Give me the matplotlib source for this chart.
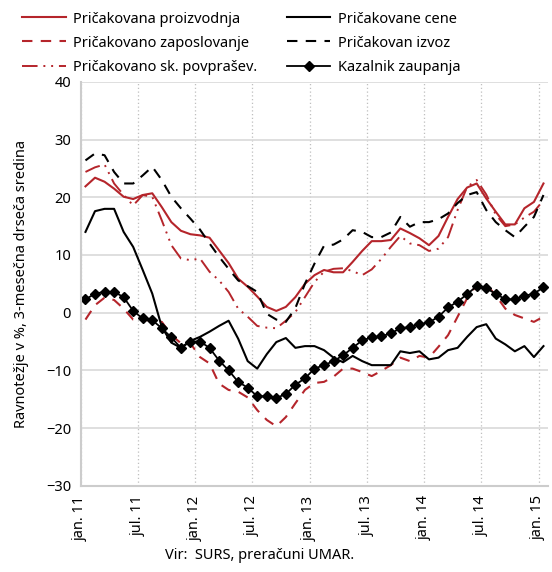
import numpy as np
import matplotlib.pyplot as plt

plt.rcParams['font.family'] = ['Noto Sans', 'DejaVu Sans']

# monthly data, jan 2011 - jan 2015
proizvodnja = [21.9, 23.4, 22.7, 21.5, 20.1, 19.7, 20.4, 20.7, 18.3, 15.7,
               14.2, 13.6, 13.4, 13.0, 10.8, 8.6, 5.9, 4.5, 2.8, 1.0,
               0.3, 1.0, 2.7, 5.0, 6.5, 7.4, 7.0, 7.0, 8.8, 10.7,
               12.4, 12.4, 12.6, 14.6, 13.8, 12.9, 11.7, 13.3, 16.6, 19.7,
               21.7, 22.4, 19.8, 17.5, 15.3, 15.3, 18.1, 19.2, 22.4]
cene = [14.0, 17.6, 18.0, 18.0, 14.0, 11.4, 7.4, 3.3, -2.5, -5.2,
        -6.1, -4.9, -4.2, -3.3, -2.3, -1.4, -4.5, -8.4, -9.7, -7.2,
        -5.1, -4.4, -6.1, -5.8, -5.8, -6.5, -7.8, -8.6, -7.5, -8.4,
        -9.1, -9.1, -9.1, -6.7, -7.0, -6.7, -8.1, -7.8, -6.5, -6.1,
        -4.2, -2.5, -2.0, -4.5, -5.5, -6.7, -5.8, -7.7, -5.8]
zaposlovanje = [-1.2, 1.3, 2.6, 2.2, 0.7, -1.2, -1.3, -1.3, -1.6, -3.9,
                -5.3, -5.3, -7.7, -8.8, -12.3, -13.4, -13.7, -14.7, -16.9, -18.6,
                -19.7, -18.1, -15.7, -13.4, -12.2, -12.0, -11.1, -9.7, -9.7, -10.3,
                -11.0, -10.1, -9.1, -7.8, -8.4, -7.5, -7.8, -5.9, -3.9, -0.7,
                2.5, 4.8, 4.9, 3.0, 0.7, -0.4, -1.0, -1.6, -0.7]
izvoz = [26.4, 27.6, 27.3, 24.4, 22.4, 22.4, 23.8, 25.3, 23.0, 20.1,
         18.1, 16.3, 14.4, 12.0, 9.7, 7.6, 5.6, 4.6, 3.6, -0.2,
         -1.2, -1.6, 0.8, 5.0, 8.5, 11.6, 11.8, 12.7, 14.3, 14.0,
         13.1, 13.1, 13.9, 16.6, 14.9, 15.7, 15.7, 16.2, 17.2, 19.0,
         20.4, 20.9, 17.8, 15.7, 14.3, 13.1, 14.9, 16.6, 20.4]
povprasevanje = [24.4, 25.2, 25.7, 22.4, 20.4, 18.6, 20.4, 20.1, 16.0, 11.7,
                 9.4, 9.1, 9.4, 7.1, 5.6, 3.6, 0.7, -0.7, -2.3, -2.6,
                 -2.7, -1.4, 0.1, 2.7, 5.3, 7.1, 7.6, 7.7, 7.2, 6.5,
                 7.5, 9.3, 11.4, 13.3, 12.0, 11.7, 10.7, 11.1, 13.1, 17.8,
                 21.8, 23.0, 20.5, 17.0, 15.0, 15.3, 16.5, 17.5, 19.5]
zaupanje = [2.3, 3.3, 3.6, 3.6, 2.7, 0.3, -1.0, -1.3, -2.7, -4.3,
            -6.1, -5.0, -5.0, -6.1, -8.3, -10.0, -12.0, -13.0, -14.5, -14.5,
            -14.8, -14.1, -12.5, -11.4, -9.7, -9.1, -8.4, -7.4, -6.1, -4.8,
            -4.3, -4.1, -3.6, -2.7, -2.5, -2.0, -1.7, -0.7, 0.9, 1.9,
            3.2, 4.6, 4.2, 3.3, 2.3, 2.3, 2.9, 3.3, 4.4]
tick_labels = ['jan. 11', 'jul. 11', 'jan. 12', 'jul. 12', 'jan. 13',
               'jul. 13', 'jan. 14', 'jul. 14', 'jan. 15']

red = '#B5252B'
x = np.arange(len(proizvodnja))

fig = plt.figure(figsize=(5.52, 5.72), dpi=100)
ax = fig.add_axes([0.1462, 0.1509, 0.847, 0.7058])

ax.plot(x, proizvodnja, color=red, lw=1.5, label='Pričakovana proizvodnja')
ax.plot(x, zaposlovanje, color=red, lw=1.5, dashes=(5, 4), label='Pričakovano zaposlovanje')
ax.plot(x, povprasevanje, color=red, lw=1.4, dashes=(8, 3, 1, 3, 1, 3), label='Pričakovano sk. povprašev.')
ax.plot(x, cene, color='black', lw=1.5, label='Pričakovane cene')
ax.plot(x, izvoz, color='black', lw=1.5, dashes=(5, 4), label='Pričakovan izvoz')
ax.plot(x, zaupanje, color='black', lw=1.3, marker='D', markersize=4.6,
        label='Kazalnik zaupanja')

ax.set_xlim(-0.5, 48.5)
ax.set_ylim(-30, 40)
ax.set_yticks(np.arange(-30, 41, 10))
ax.set_xticks(np.arange(0, 49, 6) - 0.5)
ax.set_xticklabels(tick_labels, rotation=90)
ax.tick_params(length=0, labelsize=10.5, pad=7)
ax.grid(axis='y', color='#d9d9d9', lw=1.2)
ax.grid(axis='x', color='#bfbfbf', lw=0.9, ls=(0, (1, 2)))
ax.set_axisbelow(True)
for s in ['top', 'right']:
    ax.spines[s].set_visible(False)
for s in ['left', 'bottom']:
    ax.spines[s].set_color('#cccccc')
    ax.spines[s].set_linewidth(1.5)

ax.set_ylabel('Ravnotežje v %, 3-mesečna drseča sredina', fontsize=10.5, labelpad=12)

fig.legend(loc='upper left', bbox_to_anchor=(0.03, 0.99), ncol=2, frameon=False,
           fontsize=10.5, handlelength=3.0, handletextpad=0.5, columnspacing=2.0,
           labelspacing=0.62, borderaxespad=0, numpoints=1)

fig.text(0.47, 0.022, 'Vir:  SURS, preračuni UMAR.', ha='center', fontsize=10.5)

fig.savefig('out.png', dpi=100)
